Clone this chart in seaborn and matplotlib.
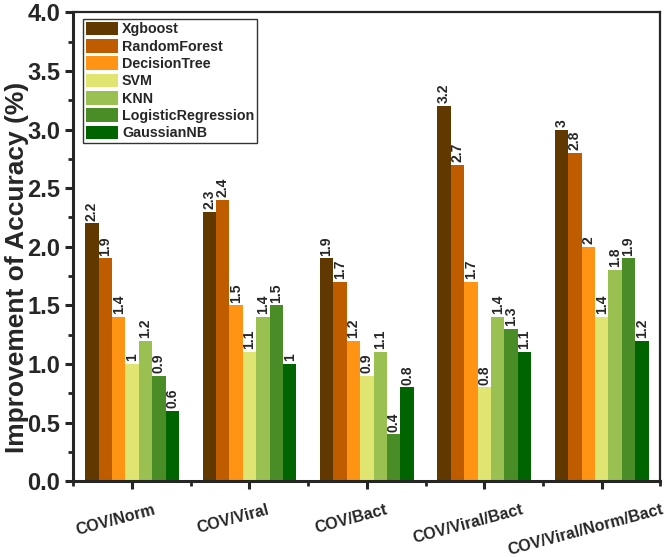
import numpy as np
import pandas as pd
import matplotlib
matplotlib.use("Agg")
import matplotlib.pyplot as plt
import matplotlib.transforms as mtrans
from matplotlib.ticker import MultipleLocator, FixedLocator
import seaborn as sns

# Data
groups = ["COV/Norm", "COV/Viral", "COV/Bact", "COV/Viral/Bact", "COV/Viral/Norm/Bact"]
models = ["Xgboost", "RandomForest", "DecisionTree", "SVM", "KNN",
          "LogisticRegression", "GaussianNB"]
xgboost = [2.2, 2.3, 1.9, 3.2, 3.0]
random_forest = [1.9, 2.4, 1.7, 2.7, 2.8]
decision_tree = [1.4, 1.5, 1.2, 1.7, 2.0]
svm = [1.0, 1.1, 0.9, 0.8, 1.4]
knn = [1.2, 1.4, 1.1, 1.4, 1.8]
logistic = [0.9, 1.5, 0.4, 1.3, 1.9]
gaussian_nb = [0.6, 1.0, 0.8, 1.1, 1.2]
colors = ["#603800", "#C05C00", "#FF9414", "#E0E470", "#9AC052", "#4A8C26", "#006400"]

series = [xgboost, random_forest, decision_tree, svm, knn, logistic, gaussian_nb]
df = pd.DataFrame({
    "Group": np.tile(groups, len(models)),
    "Model": np.repeat(models, len(groups)),
    "Value": np.concatenate(series),
})

sns.set_style("ticks")
plt.rcParams["font.family"] = ["Liberation Sans", "DejaVu Sans"]

fig, ax = plt.subplots(figsize=(6.67, 5.57), dpi=100)
sns.barplot(data=df, x="Group", y="Value", hue="Model", order=groups,
            hue_order=models, palette=colors, width=0.8, saturation=1,
            edgecolor="none", linewidth=0, errorbar=None, ax=ax)

# rotated value labels on top of every bar
for cont in ax.containers:
    ax.bar_label(cont, labels=[f"{v:g}" for v in cont.datavalues],
                 rotation=90, padding=2, fontsize=10, fontweight="bold")

ax.set_xlim(-0.5, 4.5)
ax.set_ylim(0, 4.0)
ax.yaxis.set_minor_locator(MultipleLocator(0.25))
ax.xaxis.set_minor_locator(FixedLocator(np.arange(-0.5, 5.0, 1.0)))
yt = np.arange(0, 4.01, 0.5)
ax.set_yticks(yt)
ax.set_yticklabels([f"{t:.1f}" for t in yt], fontsize=17, fontweight="bold")
ax.set_xticks(range(len(groups)))
ax.set_xticklabels(groups, fontsize=11.6, fontweight="bold", rotation=15, ha="center")

ax.set_xlabel("")
ax.set_ylabel("Improvement of Accuracy (%)", fontsize=19, fontweight="bold")
ax.yaxis.set_label_coords(-0.0755, 0.455)

for side in ["left", "bottom"]:
    ax.spines[side].set_linewidth(2.2)
for side in ["top", "right"]:
    ax.spines[side].set_visible(True)
    ax.spines[side].set_linewidth(1.6)
ax.tick_params(which="major", length=6, width=2.2, direction="out")
ax.tick_params(which="minor", length=3.5, width=2.0, direction="out")
ax.tick_params(axis="x", which="major", pad=9)

# nudge x tick labels left (after tick_params, which resets transforms)
shift = mtrans.ScaledTranslation(-16 / 100, 0, fig.dpi_scale_trans)
for lbl in ax.get_xticklabels():
    lbl.set_transform(lbl.get_transform() + shift)

leg = ax.legend(loc="upper left", bbox_to_anchor=(0.011, 0.992), frameon=True,
                fancybox=False, edgecolor="black", handlelength=2.25,
                handleheight=1.1, labelspacing=0.18, borderpad=0.2,
                handletextpad=0.3, borderaxespad=0.2,
                prop={"weight": "bold", "size": 10.3})
leg.get_frame().set_linewidth(1.0)

fig.subplots_adjust(left=0.11, right=0.99, top=0.978, bottom=0.136)
fig.savefig("out.png", dpi=100)
